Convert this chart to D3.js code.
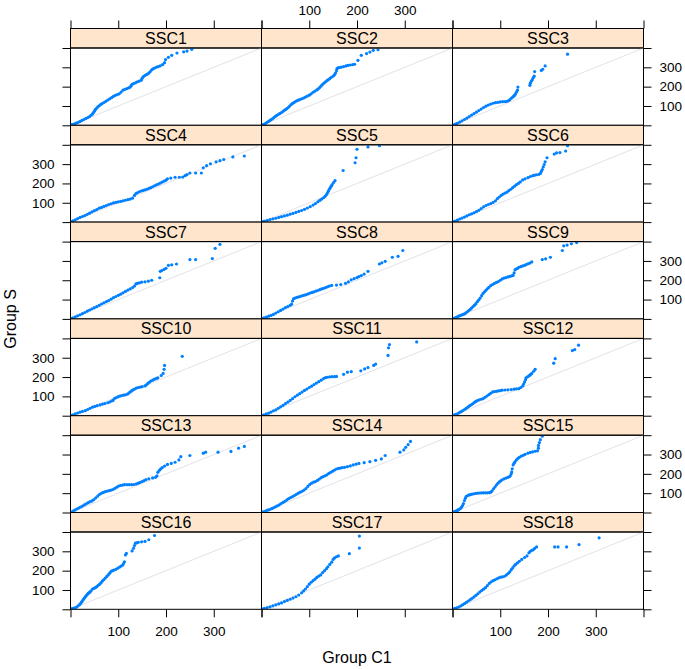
<!DOCTYPE html>
<html><head><meta charset="utf-8">
<script src="https://cdn.jsdelivr.net/npm/d3@7"></script>
<style>body{margin:0;background:#fff}svg{display:block}text{font-family:"Liberation Sans",Arial,Helvetica,sans-serif;fill:#000}</style>
</head><body><svg id="chart" width="685" height="669"></svg>
<script>
const panelNames = ["SSC1","SSC2","SSC3","SSC4","SSC5","SSC6","SSC7","SSC8","SSC9","SSC10","SSC11","SSC12","SSC13","SSC14","SSC15","SSC16","SSC17","SSC18"];
const tickValues = [0,100,200,300,400];
const tickLabels = ["","100","200","300",""];
const xTitle = "Group C1", yTitle = "Group S";

const ssc1X = [1,4,8,12,16,20,24,28,32,36,40,43,46,48,50,52,54,57,60,63,66,70,74,78,82,86,90,94,98,102,106,110,114,118,122,125,127,129,132,136,140,144,148,150,152,155,158,161,164,167,170,173,176,180,184,188,193,197,199,205,212,223,237,244,254];
const ssc1Y = [2,4,7,11,15,20,25,30,35,40,45,52,59,65,73,81,87,95,101,107,112,118,124,131,137,143,150,155,159,163,172,182,186,190,194,198,205,212,216,220,225,229,233,243,251,256,261,265,270,278,287,292,296,301,304,308,314,324,340,352,362,374,380,384,393];
const ssc2X = [2,5,8,11,14,17,20,23,26,29,32,35,38,41,44,47,50,53,56,59,62,65,68,71,74,77,80,84,88,92,96,100,104,108,112,116,119,122,125,128,131,134,137,140,143,146,150,153,155,157,158,160,163,167,172,177,181,186,191,195,202,209,220,227,234,244];
const ssc2Y = [2,5,9,14,19,24,29,34,40,46,51,56,60,65,70,76,81,86,92,100,107,113,118,123,127,130,133,137,141,146,151,156,163,171,177,183,189,196,204,212,219,225,231,236,242,248,254,262,270,282,293,297,299,301,304,307,310,312,314,316,336,362,371,379,388,391];
const ssc3X = [2,6,10,15,20,25,30,35,40,45,50,55,60,65,70,75,80,85,90,95,100,105,110,114,117,120,123,126,128,130,132,134,136,137,162,163,165,167,169,171,172,186,189,194,241];
const ssc3Y = [2,6,10,16,23,30,37,45,53,60,68,76,84,92,99,105,110,114,117,119,121,122,123,124,127,132,140,146,150,156,163,172,182,198,207,218,228,236,246,254,278,284,290,307,368];
const ssc4X = [1,5,10,15,20,25,30,35,40,45,50,55,60,65,70,75,80,85,90,95,100,105,110,115,120,125,130,134,137,140,144,148,152,156,160,164,168,172,176,180,184,188,192,196,200,203,210,219,228,235,240,244,250,262,274,278,285,293,305,313,321,340,364];
const ssc4Y = [3,7,12,18,24,29,34,40,46,53,59,65,72,76,81,86,91,95,99,102,105,107,110,113,116,119,124,138,148,152,157,161,164,167,170,174,178,183,188,193,197,202,207,212,217,224,228,232,232,233,240,246,254,254,254,281,292,302,312,318,324,337,342];
const ssc5X = [1,6,12,18,24,30,36,42,48,54,60,66,72,78,84,90,96,102,108,113,118,122,126,130,133,136,138,140,142,144,146,148,151,154,171,196,198,200,223,247];
const ssc5Y = [2,5,9,13,17,20,24,28,32,36,41,45,50,55,60,66,73,80,88,96,105,112,119,126,133,142,150,160,170,178,186,194,205,215,267,307,333,377,389,395];
const ssc6X = [1,5,10,15,20,25,30,35,40,45,50,55,60,65,70,75,80,85,90,94,98,102,106,110,114,118,122,126,130,134,138,142,147,152,158,163,168,172,176,181,184,186,188,190,192,194,198,213,218,225,237,241];
const ssc6Y = [2,5,10,16,21,26,32,38,43,48,54,61,70,79,86,91,96,102,110,121,130,138,145,150,155,163,170,178,186,194,200,208,218,224,230,236,240,243,245,247,252,262,272,285,298,312,333,352,358,360,368,395];
const ssc7X = [1,5,10,15,20,25,30,35,40,45,50,55,60,65,70,75,80,85,90,95,100,105,110,115,120,125,130,134,137,140,144,149,156,163,170,187,188,191,196,200,205,212,222,250,262,297,303,313];
const ssc7Y = [2,6,11,16,21,27,33,40,46,52,58,64,70,77,83,89,95,102,110,116,122,128,135,142,149,155,162,170,181,184,186,190,192,195,200,213,246,250,256,262,277,280,284,307,307,312,365,386];
const ssc8X = [1,5,10,15,20,25,30,35,40,45,50,55,60,63,65,67,70,74,78,82,86,90,94,98,102,106,110,114,118,122,126,130,134,138,142,147,157,166,176,182,188,194,200,204,209,215,223,247,252,259,274,286,296];
const ssc8Y = [2,5,9,14,18,23,30,37,44,51,58,64,70,76,92,104,108,111,114,117,120,123,126,130,134,137,140,144,147,151,155,158,162,166,170,173,175,178,184,192,202,208,214,219,224,232,246,284,290,298,319,324,354];
const ssc9X = [1,4,7,10,13,16,19,22,25,28,31,34,37,40,43,46,49,52,55,58,61,64,67,70,73,76,80,84,88,92,96,100,104,108,112,116,120,124,127,129,131,133,136,139,143,147,151,154,158,162,166,188,195,205,230,233,240,249,260];
const ssc9Y = [2,4,7,10,14,17,20,23,26,31,37,43,49,56,64,71,79,89,98,108,120,132,140,148,156,163,172,178,184,189,193,200,207,211,214,217,220,223,225,238,254,258,261,267,270,274,277,281,285,289,295,307,311,319,354,378,382,389,395];
const ssc10X = [1,5,10,15,20,25,31,36,41,46,51,56,62,67,72,78,82,86,89,92,95,99,103,107,111,115,119,122,125,128,131,134,138,142,146,150,156,159,162,165,168,172,176,180,183,190,194,196,197,234];
const ssc10Y = [2,5,9,14,18,22,26,32,38,44,48,52,56,60,63,67,71,76,79,89,93,97,101,104,106,108,111,117,123,128,134,138,143,146,148,150,154,160,167,173,179,184,189,193,196,208,219,240,260,307];
const ssc11X = [1,5,10,15,20,25,30,35,40,45,50,55,60,65,70,75,80,85,90,95,100,105,110,115,120,125,130,134,138,143,148,153,157,172,180,188,208,216,223,235,239,265,266,268,325];
const ssc11Y = [2,5,9,13,19,25,30,38,46,53,62,70,79,88,98,106,114,122,131,138,146,153,161,169,176,184,192,197,199,201,202,202,203,214,225,228,232,242,249,260,267,312,351,368,382];
const ssc12X = [1,4,7,10,13,16,19,22,25,28,31,34,37,40,43,46,49,52,56,60,64,68,72,76,80,84,88,92,96,100,104,110,116,123,129,134,139,143,147,149,151,153,154,157,160,162,164,166,170,173,212,215,251,256,264];
const ssc12Y = [2,4,7,10,14,18,22,27,32,37,42,48,53,58,63,69,74,78,82,85,88,95,102,109,116,123,125,126,128,130,132,133,134,135,137,139,140,146,154,164,175,186,196,201,206,210,214,219,230,240,272,295,337,342,365];
const ssc13X = [1,5,9,13,17,21,25,29,33,37,41,45,49,53,57,61,65,69,73,77,81,85,89,93,97,101,105,109,113,118,123,128,133,138,142,146,150,154,158,164,172,178,181,183,186,189,192,197,203,211,219,227,231,250,278,283,309,336,352,364];
const ssc13Y = [2,7,12,18,23,28,33,39,45,51,56,60,67,76,85,94,100,104,108,111,113,116,119,125,131,137,140,142,144,144,144,144,145,148,152,156,160,165,170,174,179,182,190,208,218,226,232,240,249,254,260,272,289,295,307,312,312,316,333,342];
const ssc14X = [1,5,9,13,17,21,25,29,33,37,41,45,49,53,57,61,65,69,73,77,81,85,89,93,97,101,105,109,113,117,121,125,129,133,137,141,145,149,153,157,161,165,169,174,180,186,192,198,204,215,227,239,251,259,290,298,302,307,312];
const ssc14Y = [2,5,8,12,15,20,24,29,34,39,46,52,58,65,72,77,82,88,94,100,105,110,116,124,135,145,152,157,160,166,173,180,186,190,195,202,208,214,220,225,228,230,232,234,237,241,246,250,254,258,263,270,277,295,312,324,337,351,368];
const ssc15X = [1,3,5,7,9,11,13,15,17,19,21,23,25,27,29,32,35,38,41,45,49,53,57,61,65,69,73,77,80,83,86,89,92,95,98,101,104,108,112,116,119,121,123,124,125,127,129,131,134,137,140,144,148,152,158,163,168,173,178,180,180,182,184,188];
const ssc15Y = [1,3,5,7,9,12,15,18,22,28,36,46,62,74,84,88,91,93,95,97,99,100,101,102,102,102,102,103,105,112,123,132,142,151,158,164,169,174,178,182,185,190,200,210,226,246,255,263,272,280,286,292,296,301,307,311,314,317,319,333,347,362,377,395];
const ssc16X = [1,4,7,10,13,16,19,21,23,25,27,29,31,33,35,37,39,41,43,46,49,52,55,58,61,64,67,70,73,76,79,82,85,88,91,95,99,103,106,109,111,113,115,117,129,132,134,136,139,142,149,156,164,176];
const ssc16Y = [2,4,6,8,12,18,24,30,37,44,51,58,64,70,76,82,86,90,96,105,108,112,117,124,130,138,147,154,162,170,178,187,196,200,203,207,213,219,224,228,237,246,281,289,302,316,330,342,344,347,349,351,360,382];
const ssc17X = [1,6,12,18,24,30,36,42,48,54,60,66,72,78,84,88,92,96,100,104,108,112,116,120,124,128,132,136,139,143,147,150,153,157,161,184,205,205];
const ssc17Y = [2,5,9,13,18,23,28,33,40,46,52,58,65,74,85,95,105,117,130,140,148,156,165,172,178,190,200,210,220,232,244,258,266,272,276,288,317,379];
const ssc18X = [1,5,9,13,17,21,25,29,33,37,41,45,49,53,57,61,65,69,73,77,81,85,89,93,97,101,105,109,113,117,120,123,126,129,132,136,140,145,151,156,160,163,166,169,172,176,214,221,239,265,307];
const ssc18Y = [2,5,8,12,17,23,29,36,43,50,57,64,72,80,89,97,104,112,122,134,142,148,153,158,163,166,168,171,178,186,194,205,214,224,232,240,248,258,268,276,292,300,305,308,315,323,323,323,323,335,370];

const seriesX = [ssc1X,ssc2X,ssc3X,ssc4X,ssc5X,ssc6X,ssc7X,ssc8X,ssc9X,ssc10X,ssc11X,ssc12X,ssc13X,ssc14X,ssc15X,ssc16X,ssc17X,ssc18X];
const seriesY = [ssc1Y,ssc2Y,ssc3Y,ssc4Y,ssc5Y,ssc6Y,ssc7Y,ssc8Y,ssc9Y,ssc10Y,ssc11Y,ssc12Y,ssc13Y,ssc14Y,ssc15Y,ssc16Y,ssc17Y,ssc18Y];

const ncol = 3, nrow = 6;
const gridLeft = 70.5, gridTop = 28.5, colW = 191, stripH = 19.5, plotH = 77.3;
const rowH = stripH + plotH;
const svg = d3.select("#chart");
svg.append("rect").attr("width",685).attr("height",669).attr("fill","#fff");

const x = d3.scaleLinear().domain([0,400]).range([0,colW]);
const y = d3.scaleLinear().domain([0,400]).range([plotH,0]);

const defs = svg.append("defs");
defs.append("clipPath").attr("id","pclip").append("rect")
  .attr("x",0).attr("y",0).attr("width",colW).attr("height",plotH);

function styleAxis(g){
  g.select(".domain").remove();
  g.selectAll(".tick line").attr("stroke","#000").attr("stroke-width",1);
  g.selectAll(".tick text").style("font-size","13.5px").attr("fill","#000");
}
const fmtAll = (d,i)=>tickLabels[i];
const fmtNone = ()=>"";

panelNames.forEach((name,i)=>{
  const r = Math.floor(i/ncol), c = i%ncol;
  const g = svg.append("g").attr("transform",`translate(${gridLeft+c*colW},${gridTop+r*rowH})`);
  g.append("rect").attr("x",0).attr("y",0).attr("width",colW).attr("height",stripH)
    .attr("fill","#ffe5cc").attr("stroke","#000").attr("stroke-width",1);
  g.append("text").attr("x",colW/2).attr("y",stripH/2).attr("dy","0.36em")
    .attr("text-anchor","middle").style("font-size","16px").text(name);
  const p = g.append("g").attr("transform",`translate(0,${stripH})`);
  p.append("line").attr("x1",x(0)).attr("y1",y(0)).attr("x2",x(400)).attr("y2",y(400))
    .attr("stroke","#e2e2ea").attr("stroke-width",1);
  const pts = seriesX[i].map((v,k)=>({qx:v,qy:seriesY[i][k]}));
  p.append("g").attr("clip-path","url(#pclip)").selectAll("circle").data(pts).join("circle")
    .attr("cx",d=>x(d.qx)).attr("cy",d=>y(d.qy)).attr("r",1.6).attr("fill","#0080ff");
  p.append("rect").attr("x",0).attr("y",0).attr("width",colW).attr("height",plotH)
    .attr("fill","none").attr("stroke","#000").attr("stroke-width",1);
  if (r===nrow-1){
    const ax = d3.axisBottom(x).tickValues(tickValues).tickSize(8).tickPadding(9)
      .tickFormat(c!==1?fmtAll:fmtNone);
    p.append("g").attr("transform",`translate(0,${plotH})`).call(ax).call(styleAxis);
  }
  if (r===0){
    const ax = d3.axisTop(x).tickValues(tickValues).tickSize(8).tickPadding(6)
      .tickFormat(c===1?fmtAll:fmtNone);
    g.append("g").call(ax).call(styleAxis);
  }
  if (c===0){
    const ax = d3.axisLeft(y).tickValues(tickValues).tickSize(8).tickPadding(8)
      .tickFormat(r%2===1?fmtAll:fmtNone);
    p.append("g").call(ax).call(styleAxis);
  }
  if (c===ncol-1){
    const ax = d3.axisRight(y).tickValues(tickValues).tickSize(8).tickPadding(8)
      .tickFormat(r%2===0?fmtAll:fmtNone);
    p.append("g").attr("transform",`translate(${colW},0)`).call(ax).call(styleAxis);
  }
});

svg.append("text").attr("x",gridLeft+ncol*colW/2).attr("y",663).attr("text-anchor","middle")
  .style("font-size","16px").text(xTitle);
svg.append("text").attr("transform",`translate(15.5,${gridTop+nrow*rowH/2}) rotate(-90)`)
  .attr("text-anchor","middle").style("font-size","16px").text(yTitle);
</script></body></html>
